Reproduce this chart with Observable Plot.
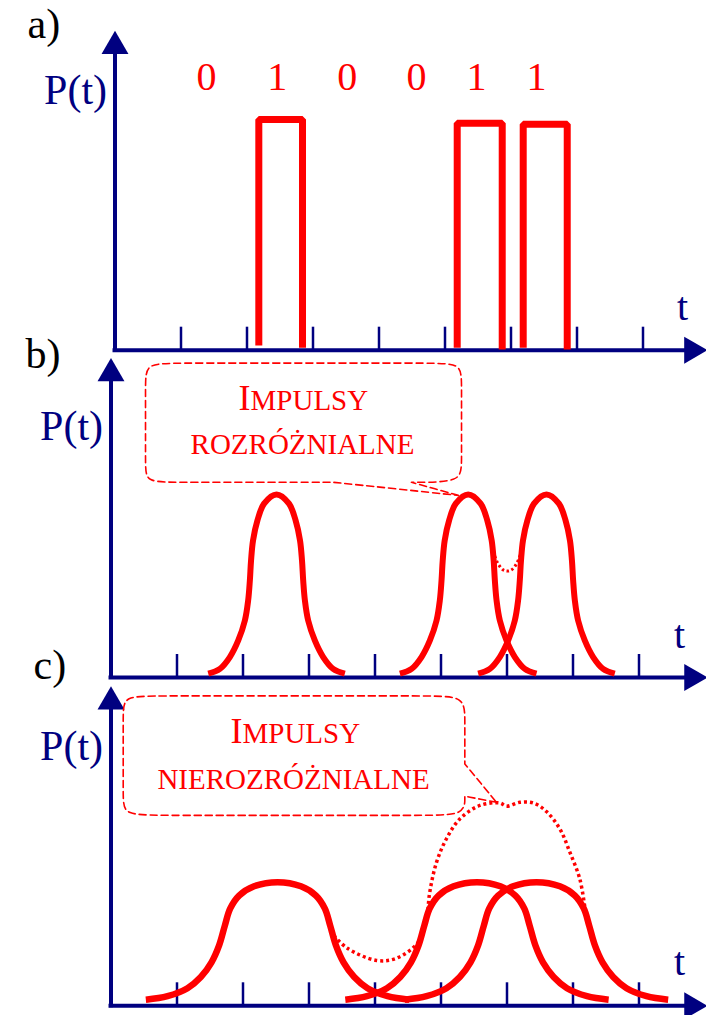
<!DOCTYPE html>
<html><head><meta charset="utf-8">
<script src="https://cdn.jsdelivr.net/npm/d3@7"></script>
<script src="https://cdn.jsdelivr.net/npm/@observablehq/plot@0.6"></script>
<style>
html,body{margin:0;padding:0;background:#fff}
#wrap{position:relative;width:706px;height:1015px;overflow:hidden;background:#fff}
</style></head><body><div id="wrap"></div>
<script>
const navy = "#000080", red = "#ff0000";
const serif = "'Liberation Serif', 'Times New Roman', Times, serif";

// shared axis ticks (t units)
const tickT = [0, 1, 2, 3, 4, 5, 6, 7, 8];

// ---- panel a: bit stream and rectangular pulses
const bits = ["0", "1", "0", "0", "1", "1"];
const bitT = [1.386, 2.458, 3.518, 4.568, 5.477, 6.386];
const bitP = 8.13;
const pulseLeftT = [2.179, 5.185, 6.185];
const pulseRightT = [2.841, 5.867, 6.852];
const pulseTopP = [7.22, 7.10, 7.07];
const pulseFootLeftP = [0.15, 0.08, 0.08];
const pulseFootRightP = [0.08, 0.02, 0.02];

// ---- panel b: narrow pulses (distinguishable)
const bPulseP = [0.12,0.27,0.64,1.16,1.78,2.41,3.04,3.66,4.29,4.91,5.44,5.73,5.44,4.91,4.29,3.66,3.04,2.41,1.78,1.16,0.64,0.27,0.12];
const b1T = [1.473,1.650,1.801,1.928,2.028,2.078,2.104,2.122,2.152,2.218,2.319,2.508,2.697,2.798,2.864,2.894,2.912,2.938,2.988,3.088,3.215,3.366,3.543];
const b2T = [4.377,4.554,4.705,4.832,4.932,4.982,5.008,5.026,5.056,5.122,5.223,5.412,5.601,5.702,5.768,5.798,5.816,5.842,5.892,5.992,6.119,6.270,6.447];
const b3T = [5.563,5.740,5.891,6.018,6.118,6.168,6.194,6.212,6.242,6.308,6.409,6.598,6.787,6.888,6.954,6.984,7.002,7.028,7.078,7.178,7.305,7.456,7.633];
const dotBT = [5.79, 5.86, 5.94, 6.005, 6.07, 6.15, 6.22];
const dotBP = [3.95, 3.58, 3.37, 3.33, 3.37, 3.58, 3.95];
const boxBT = [5.261,5.261,5.261,4.553,4.553,4.553,5.311,5.311,5.311,5.311,4.83,1.008,0.523,0.523,0.523,0.523,1.008,3.371,3.371,3.371,5.261,5.261,5.261];
const boxBP = [5.70,5.70,5.70,6.11,6.11,6.11,6.11,6.68,9.23,9.84,9.84,9.84,9.84,9.20,6.63,6.11,6.11,6.11,6.11,6.11,5.70,5.70,5.70];

// ---- panel c: broad pulses (indistinguishable)
const cPulseP = [0.19,0.30,0.55,0.90,1.36,1.89,2.51,3.04,3.45,3.74,3.87,3.74,3.45,3.04,2.51,1.89,1.36,0.90,0.55,0.30,0.19];
const c1T = [0.528,0.856,1.159,1.361,1.523,1.638,1.725,1.805,1.941,2.168,2.523,2.878,3.105,3.241,3.321,3.408,3.523,3.685,3.887,4.190,4.518];
const c2T = [3.550,3.878,4.181,4.383,4.545,4.660,4.747,4.827,4.963,5.190,5.545,5.900,6.127,6.263,6.343,6.430,6.545,6.707,6.909,7.212,7.540];
const c3T = [4.452,4.780,5.083,5.285,5.447,5.562,5.649,5.729,5.865,6.092,6.447,6.802,7.029,7.165,7.245,7.332,7.447,7.609,7.811,8.114,8.442];
const dotCT = [3.376,3.576,4.023,4.326,4.655,4.780,4.830,4.932,5.083,5.285,5.588,5.891,5.992,6.194,6.397,6.598,6.800,6.952,7.103,7.179];
const dotCP = [2.20,1.81,1.42,1.49,1.99,2.72,3.56,4.49,5.23,5.85,6.27,6.35,6.25,6.37,6.35,6.08,5.54,4.81,3.97,3.09];
const boxCT = [5.841,5.841,5.841,5.361,5.361,5.361,5.361,4.765,0.826,0.185,0.185,0.185,0.185,0.720,4.811,5.361,5.361,5.361,5.361,5.361,5.841,5.841,5.841];
const boxCP = [6.37,6.37,6.37,6.56,6.56,6.56,5.96,5.96,5.96,5.96,6.49,9.15,9.70,9.70,9.70,9.70,8.96,7.57,7.57,7.57,6.37,6.37,6.37];

// ---- labels
const panelLabels = ["a)", "b)", "c)"];
const calloutWord = ["I", "MPULSY"];
const calloutB = "ROZRÓŻNIALNE";
const calloutC = "NIEROZRÓŻNIALNE";

const zip = (T, P, id) => T.map((t, i) => ({t, p: Array.isArray(P) ? P[i] : P, id}));

function txt(s, x, y, o = {}) {
  return Plot.text([s], {x: () => x, y: () => y, text: d => d, fontFamily: serif,
    lineAnchor: "bottom", fill: navy, fontSize: 40, ...o});
}

function axisMarks(axisEnd) {
  return [
    Plot.ruleY([0], {x1: -0.03, x2: axisEnd - 0.25, stroke: navy, strokeWidth: 4}),
    Plot.ruleX([0], {y1: -0.06, y2: 9.4, stroke: navy, strokeWidth: 4}),
    Plot.ruleX(tickT, {y1: 0, y2: 0.72, stroke: navy, strokeWidth: 2.5}),
    Plot.dot([axisEnd], {x: d => d, y: () => 0, symbol: "triangle", r: 10, fill: navy, rotate: 90, dx: -15.5}),
    Plot.dot([10], {x: () => 0, y: d => d, symbol: "triangle", r: 10, fill: navy, dy: 15.5})
  ];
}

function panel(ml, yRange, axisEnd, marks) {
  const svg = Plot.plot({
    width: 706, height: 1015,
    marginLeft: 0, marginRight: 0, marginTop: 0, marginBottom: 0,
    x: {domain: [0, 8], range: [ml, ml + 8 * 66], axis: null},
    y: {domain: [0, 10], range: yRange, axis: null},
    style: {background: "transparent", overflow: "visible", position: "absolute", left: "0px", top: "0px"},
    marks: [...axisMarks(axisEnd), ...marks]
  });
  document.getElementById("wrap").appendChild(svg);
}

// panel a
const pulses = pulseLeftT.flatMap((L, i) => [
  {t: L, p: pulseFootLeftP[i], id: i},
  {t: L, p: pulseTopP[i], id: i},
  {t: pulseRightT[i], p: pulseTopP[i], id: i},
  {t: pulseRightT[i], p: pulseFootRightP[i], id: i}
]);
panel(114.5, [349.7, 30.2], 8.977, [
  Plot.line(pulses, {x: "t", y: "p", z: "id", stroke: red, strokeWidth: 7, strokeLinejoin: "miter", strokeLinecap: "butt"}),
  Plot.text(bits, {x: (d, i) => bitT[i], y: () => bitP, text: d => d, fill: red, fontSize: 40, fontFamily: serif, lineAnchor: "bottom"}),
  txt(panelLabels[0], -1.326, 9.76, {fill: "#000", fontSize: 42, textAnchor: "start"}),
  txt("P(t)", -0.598, 7.71, {fontSize: 42}),
  txt("t", 8.598, 0.93)
]);

// panel b
const bCurves = [...zip(b1T, bPulseP, 1), ...zip(b2T, bPulseP, 2), ...zip(b3T, bPulseP, 3)];
panel(110.5, [677, 357.5], 9.038, [
  Plot.line(zip(boxBT, boxBP, 0), {x: "t", y: "p", stroke: red, strokeWidth: 1.6, strokeDasharray: "7,4", curve: "basis"}),
  Plot.line(bCurves, {x: "t", y: "p", z: "id", stroke: red, strokeWidth: 6, curve: "catmull-rom", strokeLinecap: "butt"}),
  Plot.line(zip(dotBT, dotBP, 0), {x: "t", y: "p", stroke: red, strokeWidth: 3, strokeDasharray: "2.5,2.5", curve: "catmull-rom", strokeLinecap: "butt"}),
  txt(calloutWord[0], 2.114, 8.36, {fill: red, fontSize: 36, textAnchor: "end"}),
  txt(calloutWord[1], 2.114, 8.36, {fill: red, fontSize: 29, textAnchor: "start"}),
  txt(calloutB, 2.902, 7.00, {fill: red, fontSize: 29}),
  txt(panelLabels[1], -1.295, 9.70, {fill: "#000", fontSize: 42, textAnchor: "start"}),
  txt("P(t)", -0.598, 7.42, {fontSize: 42}),
  txt("t", 8.614, 0.91)
]);

// panel c
const cCurves = [...zip(c1T, cPulseP, 1), ...zip(c2T, cPulseP, 2), ...zip(c3T, cPulseP, 3)];
panel(110.5, [1005.3, 685.8], 9.038, [
  Plot.line(zip(boxCT, boxCP, 0), {x: "t", y: "p", stroke: red, strokeWidth: 1.6, strokeDasharray: "7,4", curve: "basis"}),
  Plot.line(zip(dotCT, dotCP, 0), {x: "t", y: "p", stroke: red, strokeWidth: 3.5, strokeDasharray: "3,3", curve: "catmull-rom", strokeLinecap: "butt"}),
  Plot.line(cCurves, {x: "t", y: "p", z: "id", stroke: red, strokeWidth: 6.5, curve: "catmull-rom", strokeLinecap: "butt"}),
  txt(calloutWord[0], 1.992, 8.21, {fill: red, fontSize: 36, textAnchor: "end"}),
  txt(calloutWord[1], 1.992, 8.21, {fill: red, fontSize: 29, textAnchor: "start"}),
  txt(calloutC, 2.765, 6.79, {fill: red, fontSize: 29}),
  txt(panelLabels[2], -1.174, 10.24, {fill: "#000", fontSize: 42, textAnchor: "start"}),
  txt("P(t)", -0.598, 7.68, {fontSize: 42}),
  txt("t", 8.614, 0.95)
]);
</script></body></html>
